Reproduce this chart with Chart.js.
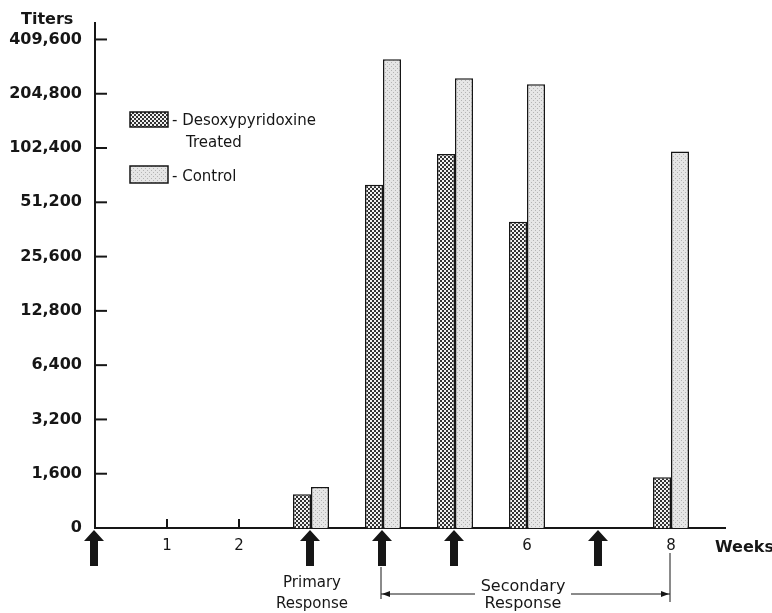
<!DOCTYPE html>
<html>
<head>
<meta charset="utf-8">
<script src="https://cdn.jsdelivr.net/npm/chart.js@4.4.1/dist/chart.umd.min.js"></script>
<style>
  html, body { margin: 0; padding: 0; background: #fff; }
  #wrap { width: 772px; height: 613px; position: relative; }
</style>
</head>
<body>
<div id="wrap"><canvas id="titerChart" width="772" height="613"></canvas></div>
<script>
// weeks at which the titers were taken
const weeks = [3, 4, 5, 6, 8];
const treatedTiters = [1230, 64000, 95000, 40000, 1530];
const controlTiters = [1350, 318000, 250000, 231000, 98000];

// y axis: doubling dilutions, the bottom one is shown as "0"
const yTickValues = [800, 1600, 3200, 6400, 12800, 25600, 51200, 102400, 204800, 409600];
const yTickLabels = ['0', '1,600', '3,200', '6,400', '12,800', '25,600', '51,200', '102,400', '204,800', '409,600'];
const xTickValues = [1, 2, 6, 8];
const xTickMarks = [1, 2];
// injection arrows
const arrowWeeks = [0, 3, 4, 5, 7];

const ink = '#161616';
const font = 'DejaVu Sans';

function makePattern(kind) {
    const c = document.createElement('canvas');
    c.width = 4; c.height = 4;
    const p = c.getContext('2d');
    if (kind === 'treated') {
        p.fillStyle = '#f2f2f2';
        p.fillRect(0, 0, 4, 4);
        p.fillStyle = '#333';
        p.fillRect(0, 0, 2, 2);
        p.fillRect(2, 2, 2, 2);
    } else {
        p.fillStyle = '#e6e6e6';
        p.fillRect(0, 0, 4, 4);
        p.fillStyle = '#b4b4b4';
        p.fillRect(1, 0, 1, 1);
        p.fillRect(3, 2, 1, 1);
    }
    return document.createElement('canvas').getContext('2d').createPattern(c, 'repeat');
}

const treatedFill = makePattern('treated');
const controlFill = makePattern('control');

const decor = {
    id: 'decor',
    afterDraw(chart) {
        const ctx = chart.ctx;
        const xs = chart.scales.x, ys = chart.scales.y;
        const left = chart.chartArea.left, base = chart.chartArea.bottom;
        ctx.save();
        ctx.strokeStyle = ink;
        ctx.fillStyle = ink;
        ctx.lineWidth = 2;

        // inward tick marks on the titer axis
        yTickValues.slice(1).forEach(v => {
            const y = ys.getPixelForValue(v);
            ctx.beginPath();
            ctx.moveTo(left, y);
            ctx.lineTo(left + 12, y);
            ctx.stroke();
        });
        // small week ticks
        xTickMarks.forEach(w => {
            const x = xs.getPixelForValue(w);
            ctx.beginPath();
            ctx.moveTo(x, base);
            ctx.lineTo(x, base - 9);
            ctx.stroke();
        });

        // arrows
        arrowWeeks.forEach(w => {
            const x = xs.getPixelForValue(w) - 1;
            ctx.beginPath();
            ctx.moveTo(x, base + 2);
            ctx.lineTo(x + 10, base + 13);
            ctx.lineTo(x + 4, base + 13);
            ctx.lineTo(x + 4, base + 38);
            ctx.lineTo(x - 4, base + 38);
            ctx.lineTo(x - 4, base + 13);
            ctx.lineTo(x - 10, base + 13);
            ctx.closePath();
            ctx.fill();
        });

        // axis titles
        ctx.font = 'bold 16px "' + font + '"';
        ctx.textBaseline = 'middle';
        ctx.textAlign = 'left';
        ctx.fillText('Titers', 21, 20);
        ctx.fillText('Weeks', 715, 548);

        // legend
        ctx.lineWidth = 1.5;
        ctx.fillStyle = treatedFill;
        ctx.fillRect(130, 112, 38, 15);
        ctx.strokeRect(130, 112, 38, 15);
        ctx.fillStyle = controlFill;
        ctx.fillRect(130, 166, 38, 17);
        ctx.strokeRect(130, 166, 38, 17);
        ctx.fillStyle = ink;
        ctx.font = '15px "' + font + '"';
        ctx.fillText('- Desoxypyridoxine', 172, 121);
        ctx.fillText('Treated', 186, 143);
        ctx.fillText('- Control', 172, 177);

        // response notes
        ctx.textAlign = 'center';
        ctx.fillText('Primary', 312, 583);
        ctx.fillText('Response', 312, 604);
        ctx.font = '16px "' + font + '"';
        ctx.fillText('Secondary', 523, 587);
        ctx.fillText('Response', 523, 604);

        // bracket for the secondary response
        const bx0 = xs.getPixelForValue(4) - 2, bx1 = xs.getPixelForValue(8) - 1, by = 594;
        ctx.lineWidth = 1;
        ctx.beginPath();
        ctx.moveTo(bx0, 567); ctx.lineTo(bx0, 599);
        ctx.moveTo(bx1, 553); ctx.lineTo(bx1, 602);
        ctx.moveTo(bx0, by); ctx.lineTo(475, by);
        ctx.moveTo(571, by); ctx.lineTo(bx1, by);
        ctx.stroke();
        ctx.beginPath();
        ctx.moveTo(bx0 + 1, by); ctx.lineTo(bx0 + 9, by - 3); ctx.lineTo(bx0 + 9, by + 3); ctx.closePath();
        ctx.moveTo(bx1 - 1, by); ctx.lineTo(bx1 - 9, by - 3); ctx.lineTo(bx1 - 9, by + 3); ctx.closePath();
        ctx.fill();
        ctx.restore();
    }
};

new Chart(document.getElementById('titerChart'), {
    type: 'bar',
    data: {
        datasets: [
            {
                label: 'Desoxypyridoxine Treated',
                data: weeks.map((w, i) => ({ x: w, y: treatedTiters[i] })),
                backgroundColor: treatedFill,
                borderColor: ink,
                borderWidth: 1.5
            },
            {
                label: 'Control',
                data: weeks.map((w, i) => ({ x: w, y: controlTiters[i] })),
                backgroundColor: controlFill,
                borderColor: ink,
                borderWidth: 1.5
            }
        ]
    },
    options: {
        responsive: false,
        animation: false,
        categoryPercentage: 0.5,
        barPercentage: 1.0,
        layout: { padding: { top: 21, right: 47, left: 0, bottom: 0 } },
        plugins: {
            legend: { display: false },
            tooltip: { enabled: false }
        },
        scales: {
            x: {
                type: 'linear',
                offset: false,
                min: 0,
                max: 8.75,
                grid: { display: false, drawTicks: false },
                border: { color: ink, width: 2 },
                afterBuildTicks: scale => { scale.ticks = xTickValues.map(v => ({ value: v })); },
                afterFit: scale => { scale.height = 85; },
                ticks: {
                    padding: 9,
                    color: ink,
                    font: { family: font, size: 15 },
                    callback: v => String(v)
                }
            },
            y: {
                type: 'logarithmic',
                min: 800,
                max: 508000,
                grid: { display: false, drawTicks: false },
                border: { color: ink, width: 2 },
                afterBuildTicks: scale => { scale.ticks = yTickValues.map(v => ({ value: v })); },
                afterFit: scale => { scale.width = 95; },
                ticks: {
                    padding: 13,
                    color: ink,
                    font: { family: font, size: 16, weight: 'bold' },
                    callback: (v, i) => yTickLabels[i]
                }
            }
        }
    },
    plugins: [decor]
});
</script>
</body>
</html>
